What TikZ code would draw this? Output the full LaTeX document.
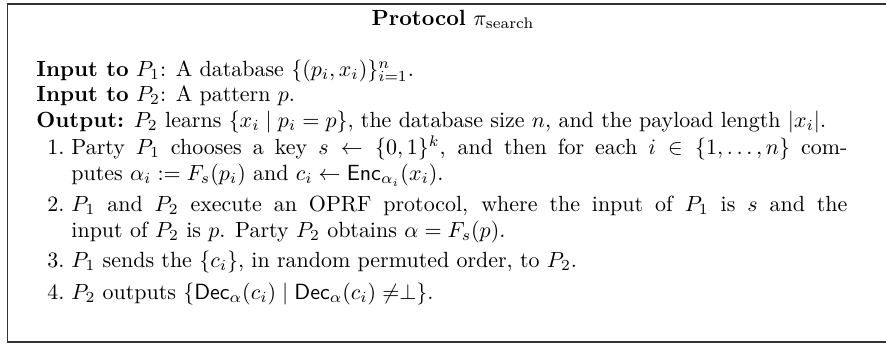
\documentclass[tikz,border=0pt]{standalone}
\usepackage{amsmath,amssymb}
\begin{document}
\begin{tikzpicture}[x=0.4554pt,y=-0.4554pt,
  frame/.style={draw=black!80,line width=0.7pt},
  line/.style={anchor=base west,inner sep=0pt},
  stepnum/.style={anchor=base east,inner sep=0pt},
  steptext/.style={anchor=base west,inner sep=0pt,text width=353.4pt,align=justify}]
\useasboundingbox (0,0) rectangle (886,346);
% open-ended frame: the right side runs past the page edge
\begin{scope}
  \clip (0,0) rectangle (886,346);
  \draw[frame] (7.5,4) rectangle (905,342);
\end{scope}
\node[anchor=base,inner sep=0pt] (title) at (453,25) {\textbf{Protocol} $\pi_{\text{search}}$};
\node[line] (in1) at (36,76) {\textbf{Input to} $P_1$: A database $\{(p_i,x_i)\}_{i=1}^{n}$.};
\node[line] (in2) at (36,101.7) {\textbf{Input to} $P_2$: A pattern $p$.};
\node[line] (out) at (36,127.7) {\textbf{Output:} $P_2$ learns $\{x_i \mid p_i = p\}$, the database size $n$, and the payload length $|x_i|$.};
% numbered steps
\node[stepnum] (n1) at (65,154.3) {1.};
\node[steptext] (s1) at (71,154.3) {Party $P_1$ chooses a key $s \leftarrow \{0,1\}^k$, and then for each $i \in \{1,\dots,n\}$ com-\linebreak putes $\alpha_i := F_s(p_i)$ and $c_i \leftarrow \mathsf{Enc}_{\alpha_i}(x_i)$.};
\node[stepnum] (n2) at (65,211) {2.};
\node[steptext] (s2) at (71,211) {$P_1$ and $P_2$ execute an OPRF protocol, where the input of $P_1$ is $s$ and the\linebreak input of $P_2$ is $p$. Party $P_2$ obtains $\alpha = F_s(p)$.};
\node[stepnum] (n3) at (65,267) {3.};
\node[steptext] (s3) at (71,267) {$P_1$ sends the $\{c_i\}$, in random permuted order, to $P_2$.};
\node[stepnum] (n4) at (65,299) {4.};
\node[steptext] (s4) at (71,299) {$P_2$ outputs $\{\mathsf{Dec}_{\alpha}(c_i) \mid \mathsf{Dec}_{\alpha}(c_i) \neq \perp\}$.};
\end{tikzpicture}
\end{document}
